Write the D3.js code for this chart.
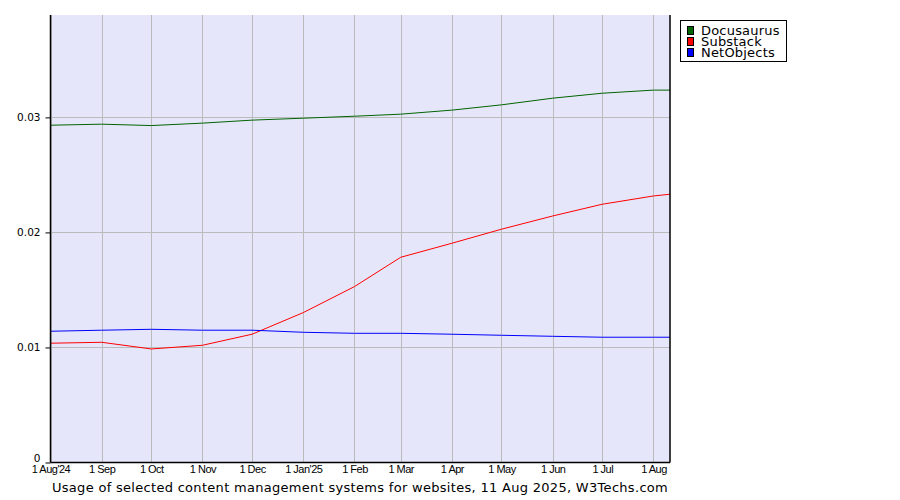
<!DOCTYPE html>
<html><head><meta charset="utf-8">
<script src="https://cdn.jsdelivr.net/npm/d3@7"></script>
<style>body{margin:0;background:#fff}svg{display:block}</style>
</head><body><svg id="c" width="900" height="500"></svg>
<script>
const dates = ["2024-08-01","2024-09-01","2024-10-01","2024-11-01","2024-12-01","2025-01-01","2025-02-01","2025-03-01","2025-04-01","2025-05-01","2025-06-01","2025-07-01","2025-08-01","2025-08-11"];
const docusaurus = [0.02932,0.02941,0.02929,0.0295,0.02976,0.02993,0.0301,0.03028,0.03063,0.03109,0.03167,0.0321,0.03237,0.03237];
const substack = [0.01037,0.01045,0.00987,0.01019,0.01115,0.01303,0.01529,0.01784,0.01906,0.02028,0.02143,0.02245,0.02317,0.02332];
const netobjects = [0.01141,0.0115,0.01158,0.0115,0.0115,0.01132,0.01123,0.01123,0.01115,0.01106,0.01097,0.01089,0.01089,0.01089];
const seriesNames = ["Docusaurus","Substack","NetObjects"];
const seriesColors = ["#006400","#ff0000","#0000ff"];
const tickDates = ["2024-08-01","2024-09-01","2024-10-01","2024-11-01","2024-12-01","2025-01-01","2025-02-01","2025-03-01","2025-04-01","2025-05-01","2025-06-01","2025-07-01","2025-08-01"];
const tickLabels = ["1 Aug'24","1 Sep","1 Oct","1 Nov","1 Dec","1 Jan'25","1 Feb","1 Mar","1 Apr","1 May","1 Jun","1 Jul","1 Aug"];
const yTicks = [0,0.01,0.02,0.03];
const yTickLabels = ["0","0.01","0.02","0.03"];
const title = "Usage of selected content management systems for websites, 11 Aug 2025, W3Techs.com";

const parse = d3.utcParse("%Y-%m-%d");
const svg = d3.select("#c");
const L=50.5, R=670, T=15, B=462.5;
const x = d3.scaleUtc().domain([parse(dates[0]), parse(dates[dates.length-1])]).range([L,R]);
const y = d3.scaleLinear().domain([0,0.0389]).range([B,T]);

svg.append("rect").attr("x",L).attr("y",T).attr("width",R-L).attr("height",B-T).attr("fill","#e6e6fa");

const g = svg.append("g");
tickDates.forEach(d=>{
  const px = Math.round(x(parse(d)))+0.5;
  g.append("line").attr("x1",px).attr("x2",px).attr("y1",T).attr("y2",B).attr("stroke","#bbbbbb").attr("stroke-width",1);
});
yTicks.forEach(v=>{
  const py = Math.round(y(v))+0.5;
  if(v>0) g.append("line").attr("x1",L).attr("x2",R).attr("y1",py).attr("y2",py).attr("stroke","#bbbbbb").attr("stroke-width",1);
});

const all = [docusaurus, substack, netobjects];
const line = d3.line().x((d,i)=>x(parse(dates[i]))).y(d=>y(d));
all.forEach((s,k)=>{
  svg.append("path").attr("d",line(s)).attr("fill","none").attr("stroke",seriesColors[k]).attr("stroke-width",1);
});

// axes
const yAxis = d3.axisLeft(y).tickValues(yTicks).tickFormat((d,i)=>yTickLabels[i]).tickSize(5).tickPadding(5);
const ya = svg.append("g").attr("transform",`translate(${L},0)`).call(yAxis);
ya.select(".domain").remove();
ya.selectAll("text").attr("font-family","DejaVu Sans").attr("font-size","10.5px").attr("fill","#000");
ya.selectAll("line").attr("stroke","#000");
ya.selectAll(".tick").filter(d=>d===0).select("text").attr("dy","-0.05em");

const xAxis = d3.axisBottom(x).tickValues(tickDates.map(parse)).tickFormat((d,i)=>tickLabels[i]).tickSize(0).tickPadding(3);
const xa = svg.append("g").attr("transform",`translate(0,${B})`).call(xAxis);
xa.select(".domain").remove();
xa.selectAll("text").attr("font-family","Liberation Sans").attr("font-size","11px").attr("letter-spacing","-0.5px").attr("fill","#000");

svg.append("line").attr("x1",L).attr("x2",L).attr("y1",T).attr("y2",B).attr("stroke","#000").attr("stroke-width",1.5);
svg.append("line").attr("x1",R).attr("x2",R).attr("y1",T).attr("y2",B).attr("stroke","#000").attr("stroke-width",1.5);
svg.append("line").attr("x1",L).attr("x2",R).attr("y1",B).attr("y2",B).attr("stroke","#000").attr("stroke-width",1.5);

svg.append("text").attr("x",360).attr("y",492).attr("text-anchor","middle").attr("font-family","DejaVu Sans").attr("font-size","13px").attr("letter-spacing","0.3px").attr("fill","#000").text(title);

// legend
const lg = svg.append("g");
lg.append("rect").attr("x",680.5).attr("y",20.5).attr("width",106).attr("height",41).attr("fill","#fff").attr("stroke","#000");
seriesNames.forEach((n,i)=>{
  const yy = 26 + i*11;
  lg.append("rect").attr("x",687.5).attr("y",yy+0.5).attr("width",6).attr("height",8).attr("fill",seriesColors[i]).attr("stroke","#000");
  lg.append("text").attr("x",701).attr("y",yy+9).attr("font-family","DejaVu Sans").attr("font-size","13px").attr("letter-spacing","0.2px").attr("fill","#000").text(n);
});
</script></body></html>
